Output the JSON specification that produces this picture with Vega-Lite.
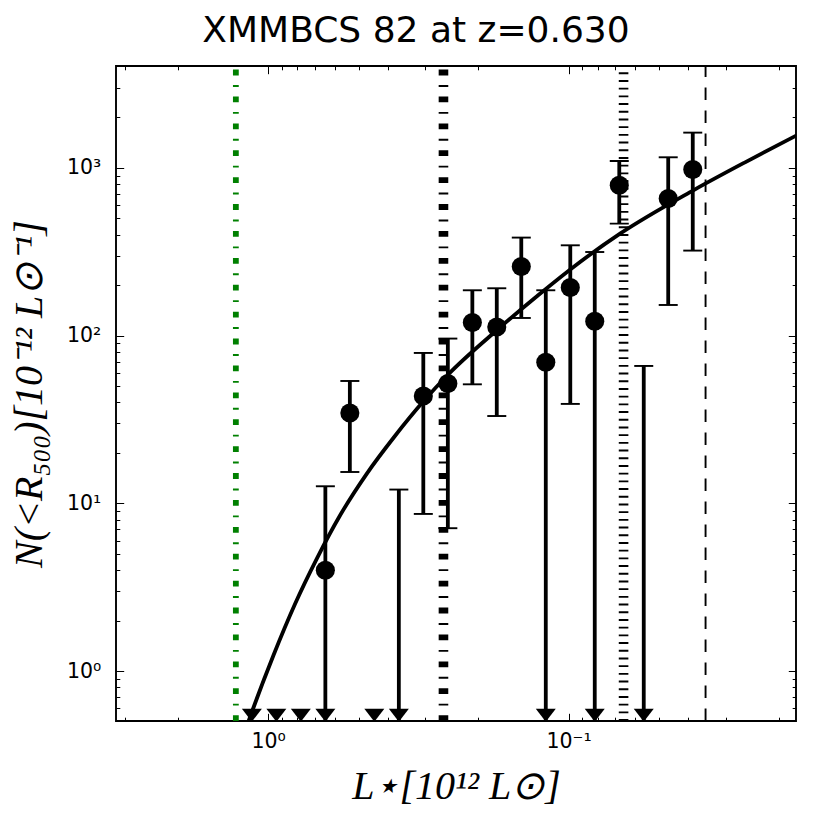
{
  "$schema": "https://vega.github.io/schema/vega-lite/v6.json",
  "width": 680,
  "height": 655,
  "autosize": {"type": "none"},
  "padding": {"left": 116, "top": 66, "right": 34, "bottom": 109},
  "background": "white",
  "config": {
    "view": {"stroke": "black", "strokeWidth": 1.9},
    "axis": {
      "domain": false,
      "grid": false,
      "tickColor": "black",
      "tickWidth": 1,
      "labelColor": "black",
      "titleColor": "black",
      "labelFont": "DejaVu Sans",
      "labelFontSize": 20.5,
      "titleFont": "Liberation Serif",
      "titleFontSize": 40,
      "titleFontWeight": "normal",
      "titleFontStyle": "italic"
    }
  },
  "title": {
    "text": "XMMBCS 82 at z=0.630",
    "font": "DejaVu Sans",
    "fontSize": 36,
    "fontWeight": "normal",
    "color": "black",
    "anchor": "middle",
    "dx": -40,
    "dy": 22,
    "baseline": "alphabetic",
    "offset": 5
  },
  "datasets": {
    "bins": [
      {"L": 1.133, "N": null, "lo": null, "hi": null},
      {"L": 0.9391, "N": null, "lo": null, "hi": null},
      {"L": 0.7785, "N": null, "lo": null, "hi": null},
      {"L": 0.6451, "N": 4.0, "lo": null, "hi": 12.66},
      {"L": 0.5347, "N": 34.6, "lo": 15.4, "hi": 53.7},
      {"L": 0.4432, "N": null, "lo": null, "hi": null},
      {"L": 0.3673, "N": null, "lo": null, "hi": 12.1},
      {"L": 0.3045, "N": 43.7, "lo": 8.66, "hi": 78.9},
      {"L": 0.2523, "N": 51.8, "lo": 7.12, "hi": 96.1},
      {"L": 0.2091, "N": 119.7, "lo": 51.3, "hi": 186.5},
      {"L": 0.1734, "N": 112.7, "lo": 33.2, "hi": 191.7},
      {"L": 0.1437, "N": 258.1, "lo": 127.5, "hi": 384.3},
      {"L": 0.1191, "N": 69.4, "lo": null, "hi": 186.5},
      {"L": 0.09871, "N": 193.5, "lo": 39.2, "hi": 345.7},
      {"L": 0.08183, "N": 121.8, "lo": null, "hi": 315.3},
      {"L": 0.06781, "N": 787.6, "lo": 465.6, "hi": 1099.5},
      {"L": 0.05621, "N": null, "lo": null, "hi": 66.0},
      {"L": 0.0466, "N": 656.4, "lo": 152.4, "hi": 1157},
      {"L": 0.03861, "N": 977, "lo": 321.5, "hi": 1623}
    ],
    "fit": [
      {"L": 1.175, "N": 0.4768},
      {"L": 1.133, "N": 0.572},
      {"L": 0.96, "N": 1.246},
      {"L": 0.8133, "N": 2.525},
      {"L": 0.6886, "N": 4.694},
      {"L": 0.576, "N": 8.505},
      {"L": 0.4693, "N": 15.07},
      {"L": 0.3779, "N": 25.32},
      {"L": 0.3042, "N": 40.6},
      {"L": 0.2512, "N": 58.9},
      {"L": 0.1734, "N": 107.7},
      {"L": 0.1263, "N": 174.1},
      {"L": 0.09157, "N": 274.9},
      {"L": 0.0674, "N": 405.6},
      {"L": 0.03843, "N": 735.5},
      {"L": 0.02586, "N": 1080},
      {"L": 0.0174, "N": 1564}
    ],
    "lines": [
      {"id": "L1", "L": 1.281},
      {"id": "L2", "L": 0.2609},
      {"id": "L3", "L": 0.06561},
      {"id": "L4", "L": 0.035}
    ]
  },
  "layer": [
    {
      "data": {"name": "lines"},
      "transform": [{"filter": "datum.id == 'L1'"}],
      "mark": {"type": "rule", "color": "#008000", "strokeWidth": 5.8, "strokeDash": [5.8, 9.6, 1.9, 9.6]},
      "encoding": {
        "x": {"field": "L", "type": "quantitative", "scale": {"type": "log", "domain": [0.0175, 3.21], "reverse": true, "nice": false}, "axis": null},
        "y": {"datum": 0.505, "type": "quantitative", "scale": {"type": "log", "domain": [0.505, 4050], "nice": false}, "axis": null},
        "y2": {"datum": 4050}
      }
    },
    {
      "data": {"name": "lines"},
      "transform": [{"filter": "datum.id == 'L2'"}],
      "mark": {"type": "rule", "color": "black", "strokeWidth": 9.6, "strokeDash": [5.8, 9.6, 1.9, 9.6]},
      "encoding": {
        "x": {"field": "L", "type": "quantitative", "scale": {"type": "log", "domain": [0.0175, 3.21], "reverse": true, "nice": false}, "axis": null},
        "y": {"datum": 0.505, "type": "quantitative", "scale": {"type": "log", "domain": [0.505, 4050], "nice": false}, "axis": null},
        "y2": {"datum": 4050}
      }
    },
    {
      "data": {"name": "lines"},
      "transform": [{"filter": "datum.id == 'L3'"}],
      "mark": {"type": "rule", "color": "black", "strokeWidth": 9.6, "strokeDash": [1.9, 5.8]},
      "encoding": {
        "x": {"field": "L", "type": "quantitative", "scale": {"type": "log", "domain": [0.0175, 3.21], "reverse": true, "nice": false}, "axis": null},
        "y": {"datum": 0.505, "type": "quantitative", "scale": {"type": "log", "domain": [0.505, 4050], "nice": false}, "axis": null},
        "y2": {"datum": 4050}
      }
    },
    {
      "data": {"name": "lines"},
      "transform": [{"filter": "datum.id == 'L4'"}],
      "mark": {"type": "rule", "color": "black", "strokeWidth": 1.9, "strokeDash": [12.5, 10.5]},
      "encoding": {
        "x": {"field": "L", "type": "quantitative", "scale": {"type": "log", "domain": [0.0175, 3.21], "reverse": true, "nice": false}, "axis": null},
        "y": {"datum": 0.505, "type": "quantitative", "scale": {"type": "log", "domain": [0.505, 4050], "nice": false}, "axis": null},
        "y2": {"datum": 4050}
      }
    },
    {
      "data": {"name": "fit"},
      "mark": {"type": "line", "color": "black", "strokeWidth": 3.8, "clip": true, "interpolate": "monotone"},
      "encoding": {
        "x": {
          "field": "L", "type": "quantitative",
          "scale": {"type": "log", "domain": [0.0175, 3.21], "reverse": true, "nice": false},
          "axis": {"orient": "bottom", "values": [0.1, 1], "tickSize": -7.7, "labelPadding": 18, "labelFlush": false, "labelExpr": "datum.value >= 1 ? '10⁰' : '10⁻¹'", "title": "L⋆[10¹² L⊙]", "titlePadding": 15}
        },
        "y": {
          "field": "N", "type": "quantitative",
          "scale": {"type": "log", "domain": [0.505, 4050], "nice": false},
          "axis": {"orient": "left", "values": [1, 10, 100, 1000], "tickSize": -7.7, "labelPadding": 23, "labelExpr": "['10⁰', '10¹', '10²', '10³'][round(log(datum.value) / LN10)]", "title": "N(<R₅₀₀)[10⁻¹² L⊙⁻¹]", "titlePadding": 17}
        }
      }
    },
    {
      "data": {"name": "bins"},
      "transform": [{"filter": "isValid(datum.lo)"}],
      "mark": {"type": "rule", "color": "black", "strokeWidth": 3.8},
      "encoding": {
        "x": {
          "field": "L", "type": "quantitative",
          "scale": {"type": "log", "domain": [0.0175, 3.21], "reverse": true, "nice": false},
          "axis": {"orient": "bottom", "values": [3, 2, 0.9, 0.8, 0.7, 0.6, 0.5, 0.4, 0.3, 0.2, 0.09, 0.08, 0.07, 0.06, 0.05, 0.04, 0.03, 0.02], "tickSize": -3.8, "labels": false, "title": null}
        },
        "y": {
          "field": "hi", "type": "quantitative",
          "scale": {"type": "log", "domain": [0.505, 4050], "nice": false},
          "axis": {"orient": "left", "values": [0.6, 0.7, 0.8, 0.9, 2, 3, 4, 5, 6, 7, 8, 9, 20, 30, 40, 50, 60, 70, 80, 90, 200, 300, 400, 500, 600, 700, 800, 900, 2000, 3000], "tickSize": -3.8, "labels": false, "title": null}
        },
        "y2": {"field": "lo"}
      }
    },
    {
      "data": {"name": "bins"},
      "transform": [{"filter": "!isValid(datum.lo) && isValid(datum.hi)"}],
      "mark": {"type": "rule", "color": "black", "strokeWidth": 3.8},
      "encoding": {
        "x": {"field": "L", "type": "quantitative", "scale": {"type": "log", "domain": [0.0175, 3.21], "reverse": true, "nice": false}, "axis": null},
        "y": {"field": "hi", "type": "quantitative", "scale": {"type": "log", "domain": [0.505, 4050], "nice": false}, "axis": null},
        "y2": {"datum": 0.505}
      }
    },
    {
      "data": {"name": "bins"},
      "transform": [{"filter": "isValid(datum.hi)"}],
      "mark": {"type": "tick", "orient": "horizontal", "color": "black", "size": 19, "thickness": 1.9, "opacity": 1},
      "encoding": {
        "x": {
          "field": "L", "type": "quantitative",
          "scale": {"type": "log", "domain": [0.0175, 3.21], "reverse": true, "nice": false},
          "axis": {"orient": "top", "values": [3, 2, 0.9, 0.8, 0.7, 0.6, 0.5, 0.4, 0.3, 0.2, 0.09, 0.08, 0.07, 0.06, 0.05, 0.04, 0.03, 0.02], "tickSize": -3.8, "labels": false, "title": null}
        },
        "y": {
          "field": "hi", "type": "quantitative",
          "scale": {"type": "log", "domain": [0.505, 4050], "nice": false},
          "axis": {"orient": "right", "values": [0.6, 0.7, 0.8, 0.9, 2, 3, 4, 5, 6, 7, 8, 9, 20, 30, 40, 50, 60, 70, 80, 90, 200, 300, 400, 500, 600, 700, 800, 900, 2000, 3000], "tickSize": -3.8, "labels": false, "title": null}
        }
      }
    },
    {
      "data": {"name": "bins"},
      "transform": [{"filter": "isValid(datum.lo)"}],
      "mark": {"type": "tick", "orient": "horizontal", "color": "black", "size": 19, "thickness": 1.9, "opacity": 1},
      "encoding": {
        "x": {"field": "L", "type": "quantitative", "scale": {"type": "log", "domain": [0.0175, 3.21], "reverse": true, "nice": false}, "axis": null},
        "y": {"field": "lo", "type": "quantitative", "scale": {"type": "log", "domain": [0.505, 4050], "nice": false}, "axis": null}
      }
    },
    {
      "data": {"name": "bins"},
      "transform": [{"filter": "!isValid(datum.lo)"}],
      "mark": {"type": "point", "shape": "M-1,-0.65L1,-0.65L0,0.65Z", "filled": true, "color": "black", "size": 400, "opacity": 1, "strokeWidth": 0},
      "encoding": {
        "x": {"field": "L", "type": "quantitative", "scale": {"type": "log", "domain": [0.0175, 3.21], "reverse": true, "nice": false}, "axis": null},
        "y": {"datum": 0.547, "type": "quantitative", "scale": {"type": "log", "domain": [0.505, 4050], "nice": false}, "axis": null}
      }
    },
    {
      "data": {"name": "bins"},
      "transform": [{"filter": "isValid(datum.N)"}],
      "mark": {"type": "circle", "color": "black", "size": 365, "opacity": 1},
      "encoding": {
        "x": {
          "field": "L", "type": "quantitative",
          "scale": {"type": "log", "domain": [0.0175, 3.21], "reverse": true, "nice": false},
          "axis": {"orient": "top", "values": [0.1, 1], "tickSize": -7.7, "labels": false, "title": null}
        },
        "y": {
          "field": "N", "type": "quantitative",
          "scale": {"type": "log", "domain": [0.505, 4050], "nice": false},
          "axis": {"orient": "right", "values": [1, 10, 100, 1000], "tickSize": -7.7, "labels": false, "title": null}
        }
      }
    }
  ],
  "resolve": {"axis": {"x": "independent", "y": "independent"}}
}
